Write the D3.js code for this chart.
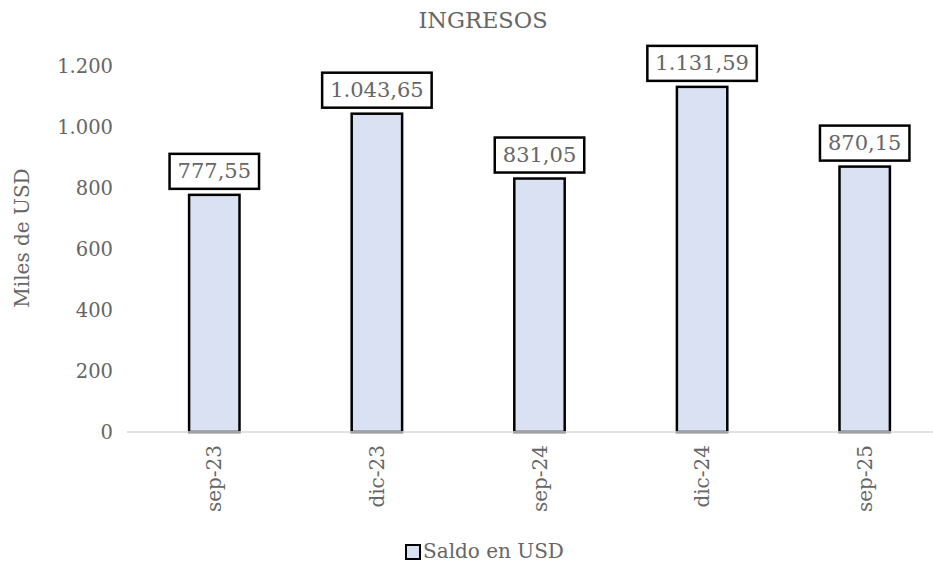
<!DOCTYPE html>
<html>
<head>
<meta charset="utf-8">
<script src="https://d3js.org/d3.v7.min.js"></script>
<style>
  body { margin: 0; background: #fff; }
  text { font-family: "DejaVu Serif", serif; fill: #666666; }
</style>
</head>
<body>
<script>
// data
var categories = ["sep-23", "dic-23", "sep-24", "dic-24", "sep-25"];
var saldo = [777.55, 1043.65, 831.05, 1131.59, 870.15];
var yTicks = [0, 200, 400, 600, 800, 1000, 1200];
var seriesName = "Saldo en USD";

var width = 933, height = 565;
var svg = d3.select("body").append("svg")
    .attr("width", width).attr("height", height);

var x = d3.scaleBand().domain(categories).range([133, 946]).paddingInner(0.69).paddingOuter(0.345);
var y = d3.scaleLinear().domain([0, 1200]).range([432, 66]);

var fmt = d3.formatLocale({decimal: ",", thousands: ".", grouping: [3], currency: ["", ""]});
var tickFmt = fmt.format(",.0f");
var valFmt = fmt.format(",.2f");

// title
svg.append("text").attr("x", 483).attr("y", 28).attr("text-anchor", "middle")
    .style("font-size", "22.5px").text("INGRESOS");

// y axis labels
svg.append("g").selectAll("text").data(yTicks).enter().append("text")
    .attr("x", 113).attr("y", function(d) { return y(d); }).attr("dy", "0.35em")
    .attr("text-anchor", "end").style("font-size", "19.5px")
    .text(function(d) { return tickFmt(d); });

svg.append("text").attr("transform", "translate(29,238) rotate(-90)")
    .attr("text-anchor", "middle").style("font-size", "20px").text("Miles de USD");

// bars
svg.append("g").selectAll("rect").data(saldo).enter().append("rect")
    .attr("x", function(d, i) { return x(categories[i]); })
    .attr("y", function(d) { return y(d); })
    .attr("width", x.bandwidth())
    .attr("height", function(d) { return y(0) - y(d); })
    .attr("fill", "#d9e1f2").attr("stroke", "#000").attr("stroke-width", 2.5);

// baseline
svg.append("line").attr("x1", 127).attr("x2", 933).attr("y1", y(0)).attr("y2", y(0))
    .attr("stroke", "#d9d9d9").attr("stroke-width", 1.5);

// x labels
svg.append("g").selectAll("text").data(categories).enter().append("text")
    .attr("transform", function(d) {
        return "translate(" + (x(d) + x.bandwidth() / 2) + "," + 445 + ") rotate(-90)";
    })
    .attr("text-anchor", "end").attr("dy", "0.35em").style("font-size", "20px")
    .text(function(d) { return d; });

// data labels with boxes
var lab = svg.append("g").selectAll("g").data(saldo).enter().append("g")
    .attr("transform", function(d, i) {
        return "translate(" + (x(categories[i]) + x.bandwidth() / 2) + "," + (y(d) - 24) + ")";
    });
lab.append("text").attr("text-anchor", "middle").attr("dy", "0.35em")
    .style("font-size", "21px")
    .text(function(d) { return valFmt(d); });
lab.each(function() {
    var g = d3.select(this);
    var bb = g.select("text").node().getBBox();
    g.insert("rect", "text")
        .attr("x", bb.x - 8).attr("y", -17).attr("width", bb.width + 16).attr("height", 35)
        .attr("fill", "#fff").attr("stroke", "#000").attr("stroke-width", 2.5);
});

// legend
var leg = svg.append("g").attr("transform", "translate(406,552)");
leg.append("rect").attr("x", 0).attr("y", -7).attr("width", 14).attr("height", 14)
    .attr("fill", "#d9e1f2").attr("stroke", "#000").attr("stroke-width", 2);
leg.append("text").attr("x", 17).attr("y", 6).style("font-size", "20px").text(seriesName);
</script>
</body>
</html>
